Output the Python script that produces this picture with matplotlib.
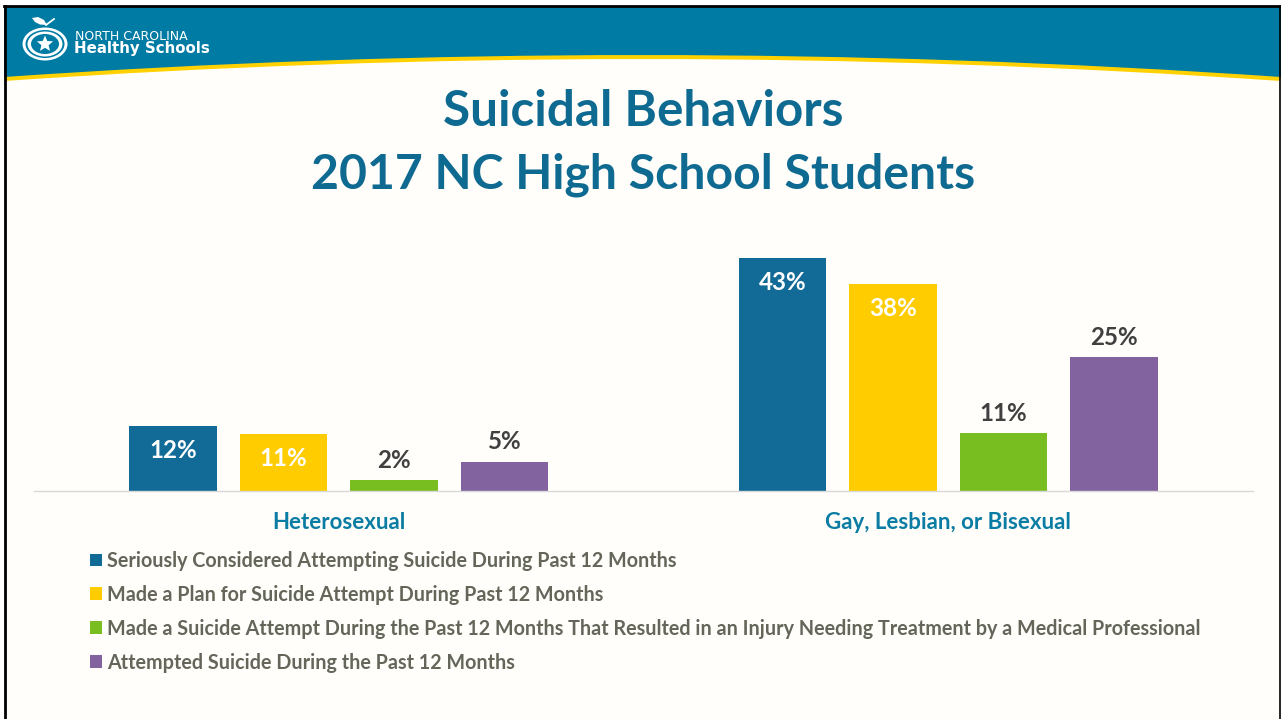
import matplotlib
matplotlib.use("Agg")
import matplotlib.pyplot as plt
import numpy as np
from matplotlib.patches import Ellipse, PathPatch, Rectangle, Polygon
from matplotlib.path import Path

plt.rcParams["font.family"] = ["Lato", "DejaVu Sans"]

W, H = 1281, 719
TEAL = "#007BA4"
TITLE = "#0F6A91"
YELLOW = "#FFD100"
PAPER = "#FFFEFA"

groups = ["Heterosexual", "Gay, Lesbian, or Bisexual"]
series = [
    "Seriously Considered Attempting Suicide During Past 12 Months",
    "Made a Plan for Suicide Attempt During Past 12 Months",
    "Made a Suicide Attempt During the Past 12 Months That Resulted in an Injury Needing Treatment by a Medical Professional",
    "Attempted Suicide During the Past 12 Months",
]
# bar heights, labels are these rounded
considered = [12.0, 43.0]
plan = [10.6, 38.2]
attempt_injury = [2.0, 10.7]
attempted = [5.4, 24.7]
colors = ["#126B96", "#FFCC00", "#78BE20", "#8263A0"]
label_colors = ["white", "white", "#404040", "#404040"]

fig = plt.figure(figsize=(W / 100, H / 100), dpi=100, facecolor="white")

# page furniture, in pixel coordinates
bg = fig.add_axes([0, 0, 1, 1])
bg.set_xlim(0, W)
bg.set_ylim(H, 0)
bg.axis("off")
bg.add_patch(Rectangle((4, 6), W - 4, H, fc=PAPER, ec="none"))


def band(y_edge, color, z):
    verts = [(4, 6), (4, y_edge), (640, y_edge - 44), (W, y_edge), (W, 6), (4, 6)]
    codes = [Path.MOVETO, Path.LINETO, Path.CURVE3, Path.CURVE3, Path.LINETO, Path.CLOSEPOLY]
    bg.add_patch(PathPatch(Path(verts, codes), fc=color, ec="none", zorder=z))


band(81, YELLOW, 1)
band(77, TEAL, 2)
bg.plot([4.5, 4.5], [6, H], color="black", lw=2, zorder=5)
bg.plot([4, W], [6, 6], color="black", lw=2, zorder=5)
bg.plot([W - 1, W - 1], [6, H], color="black", lw=1.2, zorder=5)

# logo
cx, cy = 45, 44
for rx, ry, fc in [(22.5, 16.5, "white"), (19.5, 14, TEAL), (17.5, 12.5, "white"), (14, 10, TEAL)]:
    bg.add_patch(Ellipse((cx, cy), 2 * rx, 2 * ry, fc=fc, ec="none", zorder=6))
ang = np.deg2rad(np.arange(-90, 270, 36))
rad = np.where(np.arange(10) % 2 == 0, 8.5, 3.8)
bg.add_patch(Polygon(np.c_[cx + rad * np.cos(ang), cy + rad * np.sin(ang)], fc="white", ec="none", zorder=7))
bg.add_patch(Polygon([(32, 18), (38, 17), (44, 20), (47, 25), (40, 24.5), (35, 22)], fc="white", ec="none", zorder=7))
bg.plot([46, 54], [25, 19], color="white", lw=1.3, zorder=7)
bg.text(75, 36, "NORTH CAROLINA", color="white", fontsize=9, va="center", ha="left",
        family="DejaVu Sans", zorder=7)
bg.text(74.5, 48, "Healthy Schools", color="white", fontsize=10.8, fontweight="bold", va="center",
        ha="left", family="DejaVu Sans", zorder=7)

# title
bg.text(643, 111, "Suicidal Behaviors", color=TITLE, fontsize=35.6, fontweight="bold", ha="center", va="center")
bg.text(643, 175, "2017 NC High School Students", color=TITLE, fontsize=34.7, fontweight="bold",
        ha="center", va="center")

# chart
left, right, base, top = 34, 1253, 491, 230
ax = fig.add_axes([left / W, 1 - base / H, (right - left) / W, (base - top) / H])
ax.patch.set_alpha(0)
ax.set_xlim(-0.5, 1.5)
ax.set_ylim(0, (base - top) / 5.42)

x = np.arange(len(groups))
width = 0.143
step = 0.1813
all_values = [considered, plan, attempt_injury, attempted]
for i, values in enumerate(all_values):
    bars = ax.bar(x + (i - 1.5) * step, values, width, color=colors[i], label=series[i])
    for b, v in zip(bars, values):
        outside = label_colors[i] != "white"
        ax.annotate(f"{round(v)}%", (b.get_x() + b.get_width() / 2, v),
                    xytext=(0, 6 if outside else -9.5), textcoords="offset points",
                    ha="center", va="bottom" if outside else "top",
                    color=label_colors[i], fontsize=17.4, fontweight="bold")

for s in ["top", "left", "right"]:
    ax.spines[s].set_visible(False)
ax.spines["bottom"].set_color("#D9D9D9")
ax.spines["bottom"].set_linewidth(1)
ax.set_yticks([])
ax.set_xticks(x)
ax.set_xticklabels(groups, color="#0B7CA3", fontsize=16, fontweight="bold")
ax.tick_params(axis="x", length=0, pad=15)

fig.legend(loc="upper left", bbox_to_anchor=(90 / W, 1 - 551 / H), frameon=False, ncol=1,
           prop={"size": 14.25, "weight": "bold"}, labelcolor="#64665A", handlelength=0.62,
           handleheight=0.62, handletextpad=0.25, labelspacing=0.7, borderpad=0, borderaxespad=0)

fig.savefig("out.png", dpi=100)
